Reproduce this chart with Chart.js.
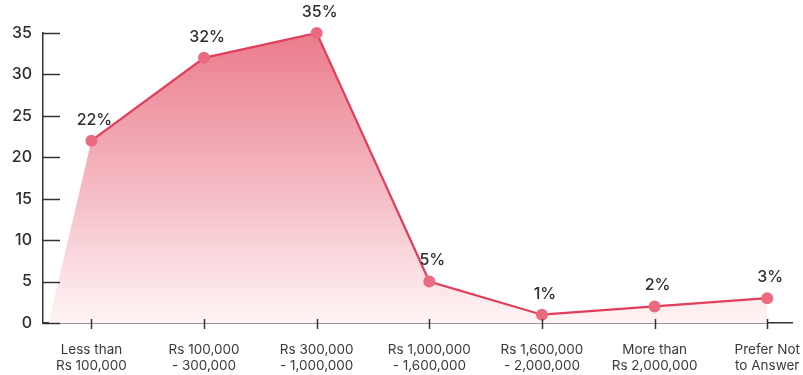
<!DOCTYPE html>
<html>
<head>
<meta charset="utf-8">
<script src="https://cdn.jsdelivr.net/npm/chart.js@4/dist/chart.umd.min.js"></script>
<style>
  html, body { margin: 0; padding: 0; background: #ffffff; }
  #wrap { width: 803px; height: 375px; position: relative; }
</style>
</head>
<body>
<div id="wrap"><canvas id="chart"></canvas></div>
<script>
// Income brackets (two-line labels) and share of respondents in %
const categories = [
  ['Less than', 'Rs 100,000'],
  ['Rs 100,000', '- 300,000'],
  ['Rs 300,000', '- 1,000,000'],
  ['Rs 1,000,000', '- 1,600,000'],
  ['Rs 1,600,000', '- 2,000,000'],
  ['More than', 'Rs 2,000,000'],
  ['Prefer Not', 'to Answer']
];
const shares = [22, 32, 35, 5, 1, 2, 3];
const yTicks = [0, 5, 10, 15, 20, 25, 30, 35];

// The shaded area begins at zero just right of the y axis
const areaStart = { x: -0.38, y: 0 };

const points = shares.map((v, i) => ({ x: i, y: v }));

const FONT = 'Inter, "DejaVu Sans", sans-serif';
const TEXT = '#2e2e2e';
const AXIS = '#333333';
const LINE = 'rgb(224, 62, 90)';
const DOT = 'rgb(236, 106, 128)';

function areaGradient(context) {
  const { chart } = context;
  const area = chart.chartArea;
  if (!area) return 'rgba(236,140,152,0.6)';
  const g = chart.ctx.createLinearGradient(0, area.top, 0, area.bottom);
  g.addColorStop(0, 'rgb(235, 124, 140)');
  g.addColorStop(0.5, 'rgb(244, 182, 192)');
  g.addColorStop(1, 'rgb(254, 244, 245)');
  return g;
}

// Tick marks (inward on y, crossing on x) and value labels
const decorations = {
  id: 'decorations',
  afterDatasetsDraw(chart) {
    const { ctx, scales: { x, y } } = chart;
    ctx.save();
    ctx.strokeStyle = AXIS;
    ctx.lineWidth = 1.5;
    y.ticks.forEach(t => {
      const py = Math.round(y.getPixelForValue(t.value)) + 0.5;
      ctx.beginPath();
      ctx.moveTo(x.left, py);
      ctx.lineTo(x.left + 17, py);
      ctx.stroke();
    });
    x.ticks.forEach(t => {
      const px = Math.round(x.getPixelForValue(t.value)) + 0.5;
      ctx.beginPath();
      ctx.moveTo(px, y.bottom - 4);
      ctx.lineTo(px, y.bottom + 6);
      ctx.stroke();
    });
    const meta = chart.getDatasetMeta(1);
    ctx.fillStyle = TEXT;
    ctx.font = '500 16px ' + FONT;
    ctx.textAlign = 'center';
    ctx.textBaseline = 'middle';
    meta.data.forEach((pt, i) => {
      ctx.fillText(shares[i] + '%', pt.x + 3, pt.y - 21);
    });
    ctx.restore();
  }
};

new Chart(document.getElementById('chart'), {
  type: 'line',
  data: {
    datasets: [
      {
        data: [areaStart, ...points],
        order: 2,
        fill: 'origin',
        backgroundColor: areaGradient,
        borderWidth: 0,
        borderColor: 'rgba(0,0,0,0)',
        pointRadius: 0,
        tension: 0
      },
      {
        data: points,
        order: 1,
        clip: false,
        fill: false,
        borderColor: LINE,
        borderWidth: 2.2,
        pointRadius: 6,
        pointBackgroundColor: DOT,
        pointBorderColor: DOT,
        pointBorderWidth: 0,
        tension: 0
      }
    ]
  },
  options: {
    responsive: true,
    maintainAspectRatio: false,
    animation: false,
    events: [],
    layout: { padding: { top: 33, right: 11, bottom: 0, left: 0 } },
    plugins: { legend: { display: false }, tooltip: { enabled: false } },
    scales: {
      x: {
        type: 'linear',
        min: -0.43,
        max: 6.22,
        grid: { display: false, drawTicks: false },
        border: { display: true, color: AXIS, width: 1.5 },
        afterBuildTicks: scale => { scale.ticks = categories.map((_, i) => ({ value: i })); },
        afterFit: scale => {
          scale.height = 52;
          scale.paddingLeft = 0;
          scale.paddingRight = 0;
        },
        ticks: {
          autoSkip: false,
          maxRotation: 0,
          padding: 19,
          color: '#3a3a3a',
          font: { family: FONT, size: 13.5, lineHeight: 1.2 },
          callback: v => categories[v]
        }
      },
      y: {
        min: 0,
        max: 35,
        grid: { display: false, drawTicks: false },
        border: { display: true, color: AXIS, width: 1.5 },
        afterBuildTicks: scale => { scale.ticks = yTicks.map(v => ({ value: v })); },
        afterFit: scale => { scale.width = 43; },
        ticks: {
          padding: 11,
          color: TEXT,
          font: { family: FONT, size: 16, weight: '500' }
        }
      }
    }
  },
  plugins: [decorations]
});
</script>
</body>
</html>
